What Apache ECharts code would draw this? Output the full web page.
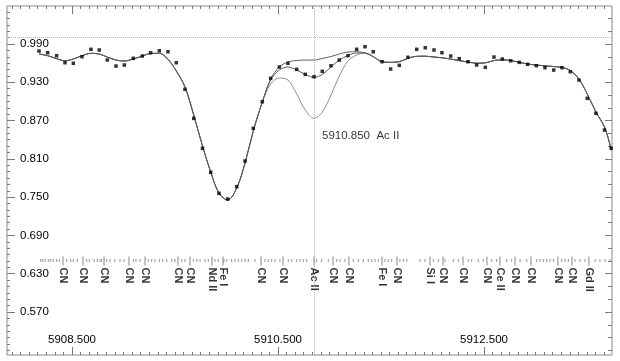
<!DOCTYPE html>
<html>
<head>
<meta charset="utf-8">
<script src="https://cdn.jsdelivr.net/npm/echarts@6/dist/echarts.min.js"></script>
<style>
  html, body { margin: 0; padding: 0; background: #fff; }
  #chart { width: 620px; height: 361px; }
</style>
</head>
<body>
<div id="chart"></div>
<script>
// Wavelength grid (Angstrom) of the observed spectrum
const wavelengths = [
  5908.180, 5908.264, 5908.351, 5908.432, 5908.513, 5908.597, 5908.684, 5908.765, 5908.843, 5908.927,
  5909.008, 5909.095, 5909.183, 5909.264, 5909.348, 5909.432, 5909.513, 5909.597, 5909.682, 5909.767,
  5909.847, 5909.927, 5910.012, 5910.099, 5910.180, 5910.260, 5910.348, 5910.429, 5910.513, 5910.597,
  5910.682, 5910.765, 5910.850, 5910.930, 5911.015, 5911.095, 5911.180, 5911.264, 5911.345, 5911.425,
  5911.510, 5911.594, 5911.678, 5911.762, 5911.847, 5911.930, 5912.015, 5912.092, 5912.177, 5912.260,
  5912.345, 5912.429, 5912.513, 5912.597, 5912.678, 5912.759, 5912.843, 5912.924, 5913.008, 5913.092,
  5913.177, 5913.257, 5913.338, 5913.422, 5913.503, 5913.587, 5913.670, 5913.735
];

// Observed normalized flux
const observed = [
  0.9790, 0.9764, 0.9717, 0.9607, 0.9598, 0.9701, 0.9817, 0.9806, 0.9649, 0.9555,
  0.9571, 0.9676, 0.9712, 0.9764, 0.9795, 0.9779, 0.9607, 0.9190, 0.8735, 0.8265,
  0.7889, 0.7560, 0.7471, 0.7664, 0.8066, 0.8579, 0.8996, 0.9362, 0.9540, 0.9598,
  0.9503, 0.9425, 0.9387, 0.9472, 0.9560, 0.9649, 0.9717, 0.9817, 0.9858, 0.9779,
  0.9623, 0.9508, 0.9566, 0.9692, 0.9817, 0.9842, 0.9806, 0.9764, 0.9712, 0.9670,
  0.9623, 0.9571, 0.9535, 0.9696, 0.9665, 0.9638, 0.9613, 0.9582, 0.9560, 0.9529,
  0.9492, 0.9529, 0.9466, 0.9336, 0.9049, 0.8814, 0.8552, 0.8265
];

// Synthetic spectra: without Ac II, best fit, and enhanced Ac II abundance
const synthNoAc = [
  0.9743, 0.9717, 0.9670, 0.9638, 0.9665, 0.9717, 0.9754, 0.9743, 0.9696, 0.9649,
  0.9634, 0.9665, 0.9712, 0.9751, 0.9754, 0.9660, 0.9477, 0.9226, 0.8787, 0.8301,
  0.7894, 0.7565, 0.7455, 0.7643, 0.8035, 0.8536, 0.8991, 0.9351, 0.9540, 0.9618,
  0.9641, 0.9649, 0.9649, 0.9673, 0.9704, 0.9743, 0.9775, 0.9779, 0.9759, 0.9701,
  0.9623, 0.9613, 0.9623, 0.9676, 0.9707, 0.9709, 0.9696, 0.9684, 0.9665, 0.9640,
  0.9618, 0.9599, 0.9605, 0.9641, 0.9652, 0.9641, 0.9613, 0.9587, 0.9571, 0.9558,
  0.9547, 0.9532, 0.9485, 0.9351, 0.9116, 0.8834, 0.8599, 0.8250
];
const synthFit = [
  0.9743, 0.9717, 0.9670, 0.9638, 0.9665, 0.9717, 0.9754, 0.9743, 0.9696, 0.9649,
  0.9634, 0.9665, 0.9712, 0.9751, 0.9754, 0.9660, 0.9477, 0.9226, 0.8787, 0.8301,
  0.7894, 0.7565, 0.7455, 0.7643, 0.8035, 0.8536, 0.8991, 0.9336, 0.9492, 0.9540,
  0.9492, 0.9422, 0.9378, 0.9422, 0.9540, 0.9649, 0.9720, 0.9759, 0.9759, 0.9701,
  0.9623, 0.9613, 0.9623, 0.9676, 0.9707, 0.9709, 0.9696, 0.9684, 0.9665, 0.9640,
  0.9618, 0.9599, 0.9605, 0.9641, 0.9652, 0.9641, 0.9613, 0.9587, 0.9571, 0.9558,
  0.9547, 0.9532, 0.9485, 0.9351, 0.9116, 0.8834, 0.8599, 0.8250
];
const synthStrong = [
  0.9743, 0.9717, 0.9670, 0.9638, 0.9665, 0.9717, 0.9754, 0.9743, 0.9696, 0.9649,
  0.9634, 0.9665, 0.9712, 0.9751, 0.9754, 0.9660, 0.9477, 0.9226, 0.8787, 0.8301,
  0.7894, 0.7565, 0.7455, 0.7643, 0.8035, 0.8536, 0.8991, 0.9273, 0.9367, 0.9336,
  0.9116, 0.8866, 0.8735, 0.8834, 0.9101, 0.9398, 0.9634, 0.9728, 0.9759, 0.9701,
  0.9623, 0.9613, 0.9623, 0.9676, 0.9707, 0.9709, 0.9696, 0.9684, 0.9665, 0.9640,
  0.9618, 0.9599, 0.9605, 0.9641, 0.9652, 0.9641, 0.9613, 0.9587, 0.9571, 0.9558,
  0.9547, 0.9532, 0.9485, 0.9351, 0.9116, 0.8834, 0.8599, 0.8250
];

// Identified lines: wavelength and species
const idWavelengths = [
  5908.413, 5908.607, 5908.811, 5909.053, 5909.209, 5909.529, 5909.646, 5909.859, 5909.966,
  5910.335, 5910.549, 5910.850, 5911.034, 5911.189, 5911.510, 5911.655, 5911.976, 5912.102,
  5912.296, 5912.529, 5912.655, 5912.801, 5912.956, 5913.218, 5913.354, 5913.519
];
const idSpecies = [
  'CN', 'CN', 'CN', 'CN', 'CN', 'CN', 'CN', 'Nd II', 'Fe I',
  'CN', 'CN', 'Ac II', 'CN', 'CN', 'Fe I', 'CN', 'Si I', 'CN',
  'CN', 'CN', 'Ce II', 'CN', 'CN', 'CN', 'CN', 'Gd II'
];

// Other (unlabelled) lines in the line list
const otherLines = [
  5908.196, 5908.216, 5908.238, 5908.270, 5908.293, 5908.318, 5908.351, 5908.377, 5908.449, 5908.487,
  5908.513, 5908.551, 5908.643, 5908.668, 5908.714, 5908.746, 5908.772, 5908.788, 5908.837, 5908.869,
  5908.917, 5908.966, 5909.005, 5909.095, 5909.121, 5909.160, 5909.241, 5909.274, 5909.306, 5909.348,
  5909.381, 5909.419, 5909.468, 5909.500, 5909.565, 5909.597, 5909.678, 5909.711, 5909.743, 5909.791,
  5909.823, 5909.888, 5909.920, 5909.976, 5910.002, 5910.050, 5910.083, 5910.115, 5910.148, 5910.180,
  5910.212, 5910.277, 5910.374, 5910.406, 5910.439, 5910.471, 5910.519, 5910.600, 5910.633, 5910.682,
  5910.714, 5910.746, 5910.779, 5910.876, 5910.924, 5910.988, 5911.070, 5911.102, 5911.150, 5911.231,
  5911.280, 5911.328, 5911.377, 5911.410, 5911.442, 5911.474, 5911.539, 5911.571, 5911.604, 5911.684,
  5911.717, 5911.750, 5911.879, 5911.927, 5912.008, 5912.057, 5912.121, 5912.202, 5912.250, 5912.348,
  5912.381, 5912.445, 5912.493, 5912.575, 5912.623, 5912.720, 5912.769, 5912.850, 5912.915, 5913.012,
  5913.044, 5913.076, 5913.109, 5913.141, 5913.173, 5913.254, 5913.286, 5913.319, 5913.383, 5913.432,
  5913.481, 5913.578, 5913.626, 5913.675, 5913.723
];

// Axis ticks
const xMajorTicks = [5908.5, 5910.5, 5912.5];
const yMajorTicks = [0.570, 0.630, 0.690, 0.750, 0.810, 0.870, 0.930, 0.990];
const acLine = { wavelength: 5910.850, label: '5910.850  Ac II' };
const continuumLevel = 1.0;

const X_MIN = 5907.869, X_MAX = 5913.743;
const Y_MIN = 0.5026, Y_MAX = 1.0496;

function stepTicks(start, end, step) {
  const out = [];
  for (let v = start; v <= end + 1e-9; v += step) out.push(+v.toFixed(5));
  return out;
}
const xMinorTicks = stepTicks(5908.5 - 7 * (2 / 24), X_MAX, 2 / 24);
const yMinorLeft = stepTicks(0.51, Y_MAX, 0.01);
const yMinorRight = stepTicks(0.51, Y_MAX, 0.02);

const FONT = 'Liberation Sans, Arial, sans-serif';
const AX = '#7a7a7a';

function xAxisDef(pos, ticks, len, labels) {
  return {
    type: 'value', min: X_MIN, max: X_MAX, position: pos,
    axisLine: { show: false }, splitLine: { show: false },
    axisTick: { show: true, inside: true, length: len, customValues: ticks, lineStyle: { color: AX, width: 1 } },
    axisLabel: labels ? {
      show: true, inside: true, margin: 9, customValues: ticks,
      formatter: v => v.toFixed(3), color: '#000', fontSize: 11.5, fontFamily: FONT
    } : { show: false }
  };
}
function yAxisDef(pos, ticks, len, labels) {
  return {
    type: 'value', min: Y_MIN, max: Y_MAX, position: pos,
    axisLine: { show: false }, splitLine: { show: false },
    axisTick: { show: true, inside: true, length: len, customValues: ticks, lineStyle: { color: AX, width: 1 } },
    axisLabel: labels ? {
      show: true, inside: true, margin: 13, customValues: ticks,
      formatter: v => v.toFixed(3), color: '#000', fontSize: 11.5, fontFamily: FONT
    } : { show: false }
  };
}

const zip = (xs, ys) => xs.map((x, i) => [x, ys[i]]);

const chart = echarts.init(document.getElementById('chart'), null, { renderer: 'canvas' });
chart.setOption({
  animation: false,
  backgroundColor: '#fff',
  grid: { left: 7, right: 8, top: 6, bottom: 6, show: true, borderColor: '#8a8a8a', borderWidth: 1 },
  xAxis: [
    xAxisDef('bottom', xMajorTicks, 8, true),
    xAxisDef('bottom', xMinorTicks, 3, false),
    xAxisDef('top', xMajorTicks, 8, false),
    xAxisDef('top', xMinorTicks, 3, false)
  ],
  yAxis: [
    yAxisDef('left', yMajorTicks, 8, true),
    yAxisDef('left', yMinorLeft, 3, false),
    yAxisDef('right', yMajorTicks, 7, false),
    yAxisDef('right', yMinorRight, 4, false)
  ],
  series: [
    {
      name: 'reference lines', type: 'line', data: [], silent: true,
      markLine: {
        silent: true, symbol: 'none', label: { show: false },
        data: [
          { xAxis: acLine.wavelength, lineStyle: { color: '#b0b0b0', type: [1, 1], width: 1 } },
          { yAxis: continuumLevel, lineStyle: { color: '#b8b8b8', type: [1, 1], width: 1 } }
        ]
      }
    },
    {
      name: 'strong Ac', type: 'line', data: zip(wavelengths, synthStrong), smooth: 0.35,
      showSymbol: false, symbol: 'none', lineStyle: { color: '#8f8f8f', width: 1 }, z: 2
    },
    {
      name: 'no Ac', type: 'line', data: zip(wavelengths, synthNoAc), smooth: 0.35,
      showSymbol: false, symbol: 'none', lineStyle: { color: '#5f5f5f', width: 1 }, z: 3
    },
    {
      name: 'fit', type: 'line', data: zip(wavelengths, synthFit), smooth: 0.35,
      showSymbol: false, symbol: 'none', lineStyle: { color: '#5a5a5a', width: 1 }, z: 3
    },
    {
      name: 'observed', type: 'scatter', data: zip(wavelengths, observed),
      symbol: 'rect', symbolSize: 3.5, itemStyle: { color: '#000' }, z: 5
    },
    {
      name: 'other lines', type: 'scatter', silent: true,
      data: otherLines.map(w => [w, 0.6508]),
      symbol: 'rect', symbolSize: [1, 3], itemStyle: { color: '#777' }, z: 4
    },
    {
      name: 'identified lines', type: 'scatter', silent: true,
      data: idWavelengths.map((w, i) => ({ value: [w, 0.6500], name: idSpecies[i] })),
      symbol: 'rect', symbolSize: [1, 9], itemStyle: { color: '#666' }, z: 4,
      label: {
        show: true, formatter: p => p.name, position: 'bottom', distance: 2,
        rotate: -90, align: 'left', verticalAlign: 'middle',
        color: '#000', fontSize: 11, fontWeight: 'bold', fontFamily: FONT
      }
    },
    {
      name: 'Ac label', type: 'scatter', silent: true,
      data: [[acLine.wavelength, 0.8458]], symbolSize: 0,
      label: {
        show: true, formatter: acLine.label, position: 'right', distance: 8,
        color: '#000', fontSize: 11.5, fontFamily: FONT
      }
    }
  ]
});
</script>
</body>
</html>
